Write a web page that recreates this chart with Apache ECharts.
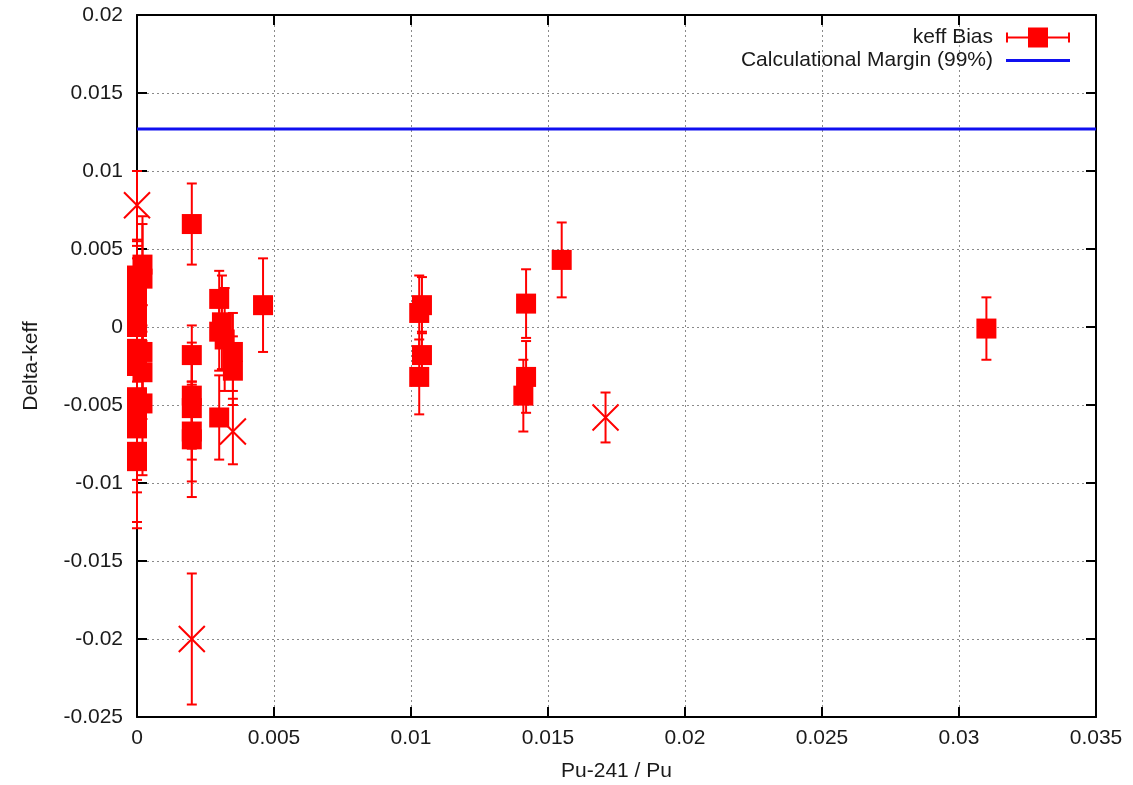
<!DOCTYPE html>
<html>
<head>
<meta charset="utf-8">
<script src="https://cdn.jsdelivr.net/npm/echarts@6/dist/echarts.min.js"></script>
<style>
  html, body { margin: 0; padding: 0; background: #fff; }
  #biasChart { width: 1133px; height: 785px; }
</style>
</head>
<body>
<div id="biasChart"></div>
<script>
// keff bias points (squares): Pu-241/Pu ratio, delta-keff, 1-sigma
var puRatio = [0.0002, 0.0002, 0, 0, 0, 0, 0, 0, 0.0002, 0, 0.0002, 0, 0.0002, 0, 0, 0, 0,
    0.002, 0.002, 0.002, 0.002, 0.002, 0.002,
    0.0030, 0.0031, 0.0030, 0.0032, 0.0035, 0.0035, 0.0030,
    0.0046,
    0.0103, 0.0104, 0.0104, 0.0103,
    0.0142, 0.0142, 0.0141,
    0.0155,
    0.031];
var deltaK = [0.0040, 0.0031, 0.0033, 0.0024, 0.0014, 0.0006, 0.0000, -0.0014, -0.0016, -0.0025, -0.0029, -0.0045, -0.0049, -0.0056, -0.0065, -0.0080, -0.0086,
    0.0066, -0.0018, -0.0044, -0.0052, -0.0067, -0.0072,
    0.0018, 0.0003, -0.0003, -0.0008, -0.0016, -0.0028, -0.0058,
    0.0014,
    0.0009, 0.0014, -0.0018, -0.0032,
    0.0015, -0.0032, -0.0044,
    0.0043,
    -0.0001];
var sigma = [0.0026, 0.0040, 0.0022, 0.0028, 0.0030, 0.0030, 0.0030, 0.0030, 0.0030, 0.0030, 0.0030, 0.0030, 0.0046, 0.0042, 0.0041, 0.0045, 0.0043,
    0.0026, 0.0019, 0.0034, 0.0033, 0.0032, 0.0037,
    0.0018, 0.0030, 0.0025, 0.0033, 0.0025, 0.0022, 0.0027,
    0.0030,
    0.0024, 0.0018, 0.0015, 0.0024,
    0.0022, 0.0023, 0.0023,
    0.0024,
    0.0020];

// points drawn with an x marker
var crossRatio = [0, 0.002, 0.0035, 0.0171];
var crossDeltaK = [0.0078, -0.0200, -0.0067, -0.0058];
var crossSigma = [0.0022, 0.0042, 0.0021, 0.0016];

// calculational margin (99%)
var marginX = [0, 0.035];
var marginY = [0.0127, 0.0127];

var xTicks = { min: 0, max: 0.035, interval: 0.005 };
var yTicks = { min: -0.025, max: 0.02, interval: 0.005 };

var chartDom = document.getElementById('biasChart');
var myChart = echarts.init(chartDom);
var option;

var squarePts = puRatio.map(function (x, i) { return [x, deltaK[i], sigma[i]]; });
var crossPts = crossRatio.map(function (x, i) { return [x, crossDeltaK[i], crossSigma[i]]; });
var marginPts = marginX.map(function (x, i) { return [x, marginY[i]]; });

var red = '#ff0000';
var blue = '#1010f0';
var textCol = '#1a1a1a';
var font = 'Liberation Sans, Arial, sans-serif';

function renderErrorBar(params, api) {
    var x = api.value(0), y = api.value(1), e = api.value(2);
    var hi = api.coord([x, y + e]);
    var lo = api.coord([x, y - e]);
    var half = 5;
    var st = { stroke: red, lineWidth: 2, fill: null };
    return {
        type: 'group',
        children: [
            { type: 'line', shape: { x1: hi[0], y1: hi[1], x2: lo[0], y2: lo[1] }, style: st },
            { type: 'line', shape: { x1: hi[0] - half, y1: hi[1], x2: hi[0] + half, y2: hi[1] }, style: st },
            { type: 'line', shape: { x1: lo[0] - half, y1: lo[1], x2: lo[0] + half, y2: lo[1] }, style: st }
        ]
    };
}

function tickFmt(v) { return String(+v.toFixed(3)); }

var mainX = {
    type: 'value', min: xTicks.min, max: xTicks.max, interval: xTicks.interval,
    name: 'Pu-241 / Pu', nameLocation: 'middle', nameGap: 44,
    nameTextStyle: { color: textCol, fontSize: 21, fontFamily: font },
    axisLine: { onZero: false, lineStyle: { color: '#000', width: 2 } },
    axisTick: { inside: true, length: 10, lineStyle: { color: '#000', width: 2 } },
    axisLabel: { margin: 11, color: textCol, fontSize: 21, fontFamily: font, formatter: tickFmt },
    splitLine: { show: true, lineStyle: { color: '#8a8a8a', width: 1, type: [2, 3] } }
};
var mainY = {
    type: 'value', min: yTicks.min, max: yTicks.max, interval: yTicks.interval,
    name: 'Delta-keff', nameLocation: 'middle', nameGap: 95, nameRotate: 90,
    nameTextStyle: { color: textCol, fontSize: 21, fontFamily: font },
    axisLine: { onZero: false, lineStyle: { color: '#000', width: 2 } },
    axisTick: { inside: true, length: 10, lineStyle: { color: '#000', width: 2 } },
    axisLabel: { margin: 14, color: textCol, fontSize: 21, fontFamily: font, formatter: tickFmt },
    splitLine: { show: true, lineStyle: { color: '#8a8a8a', width: 1, type: [2, 3] } }
};
// mirrored border axes (ticks only)
var mirrorX = {
    type: 'value', position: 'top', min: xTicks.min, max: xTicks.max, interval: xTicks.interval,
    axisLine: { onZero: false, lineStyle: { color: '#000', width: 2 } },
    axisTick: { inside: true, length: 10, lineStyle: { color: '#000', width: 2 } },
    axisLabel: { show: false }, splitLine: { show: false }
};
var mirrorY = {
    type: 'value', position: 'right', min: yTicks.min, max: yTicks.max, interval: yTicks.interval,
    axisLine: { onZero: false, lineStyle: { color: '#000', width: 2 } },
    axisTick: { inside: true, length: 10, lineStyle: { color: '#000', width: 2 } },
    axisLabel: { show: false }, splitLine: { show: false }
};

option = {
    animation: false,
    backgroundColor: '#fff',
    grid: { left: 137, right: 37, top: 15, bottom: 68, containLabel: false, outerBoundsMode: 'none' },
    legend: {
        orient: 'vertical', right: 58, top: 22, align: 'right',
        itemWidth: 64, itemHeight: 20, itemGap: 2, symbolKeepAspect: true,
        textStyle: { color: textCol, fontSize: 21, fontFamily: font, padding: [0, 8, 0, 0] },
        data: [
            { name: 'keff Bias', icon: 'path://M0,5H2V9H62V5H64V15H62V11H2V15H0ZM22,0H42V20H22Z', itemStyle: { color: red } },
            { name: 'Calculational Margin (99%)', icon: 'path://M0,0H64V3H0Z', itemStyle: { color: blue } }
        ]
    },
    xAxis: [mainX, mirrorX],
    yAxis: [mainY, mirrorY],
    series: [
        {
            name: 'keff Bias err', type: 'custom', renderItem: renderErrorBar,
            data: squarePts.concat(crossPts), encode: { x: 0, y: 1 }, z: 2, silent: true
        },
        {
            name: 'keff Bias', type: 'scatter', data: squarePts, symbol: 'rect', symbolSize: 20,
            itemStyle: { color: red, opacity: 1 }, z: 3
        },
        {
            name: 'keff Bias x', type: 'scatter', data: crossPts,
            symbol: 'path://M0,0L24,24M24,0L0,24', symbolSize: 26,
            itemStyle: { color: 'none', borderColor: red, borderWidth: 2, opacity: 1 }, z: 3
        },
        {
            name: 'Calculational Margin (99%)', type: 'line', data: marginPts, symbol: 'none',
            lineStyle: { color: blue, width: 3 }, itemStyle: { color: blue }, z: 4
        }
    ]
};

option && myChart.setOption(option);
</script>
</body>
</html>
